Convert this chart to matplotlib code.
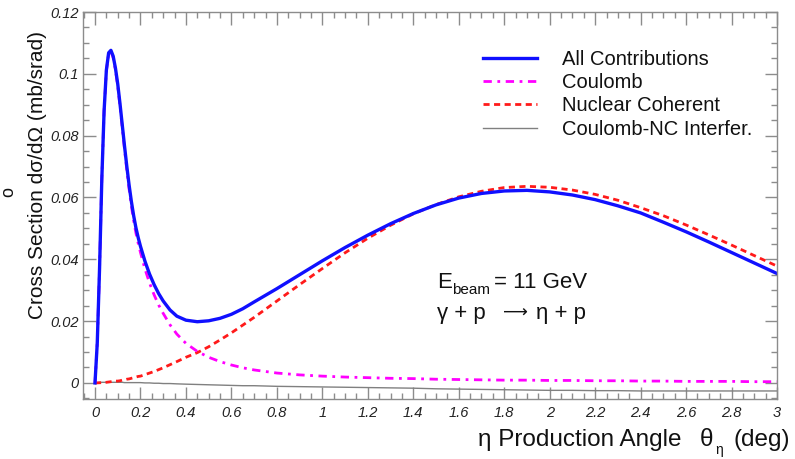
import matplotlib
matplotlib.use("Agg")
import matplotlib.pyplot as plt
from matplotlib.ticker import MultipleLocator, FuncFormatter
from matplotlib.lines import Line2D

plt.rcParams['font.family'] = ['Liberation Sans', 'DejaVu Sans']

# production angle (deg)
theta = [0.00, 0.01, 0.02, 0.03, 0.04, 0.05, 0.06, 0.07, 0.08, 0.09,
         0.10, 0.11, 0.12, 0.13, 0.14, 0.15, 0.16, 0.17, 0.18, 0.19,
         0.20, 0.22, 0.24, 0.26, 0.28, 0.30, 0.33, 0.36, 0.40, 0.45,
         0.50, 0.55, 0.60, 0.65, 0.70, 0.80, 0.90, 1.0, 1.1, 1.2,
         1.3, 1.4, 1.5, 1.6, 1.7, 1.8, 1.9, 2.0, 2.1, 2.2,
         2.3, 2.4, 2.5, 2.6, 2.7, 2.8, 2.9, 3.0]

# cross sections (mb/srad)
total = [0.0, 0.013, 0.037, 0.066, 0.088, 0.1012, 0.1068, 0.1076, 0.1057, 0.1018,
         0.0967, 0.0903, 0.0834, 0.0765, 0.0700, 0.0640, 0.0587, 0.0541, 0.0502, 0.0470,
         0.0442, 0.0393, 0.0352, 0.0318, 0.0289, 0.0265, 0.0236, 0.0216, 0.0203, 0.0198,
         0.0201, 0.0209, 0.0222, 0.0240, 0.0262, 0.0305, 0.0350, 0.0395, 0.0438, 0.0478,
         0.0515, 0.0548, 0.0576, 0.0598, 0.0613, 0.0621, 0.0623, 0.0618, 0.0608, 0.0593,
         0.0573, 0.0550, 0.0520, 0.0489, 0.0456, 0.0422, 0.0388, 0.0354]

coulomb = [0.0, 0.013, 0.037, 0.066, 0.088, 0.101, 0.1065, 0.1072, 0.1052, 0.1012,
           0.0960, 0.0895, 0.0825, 0.0755, 0.0688, 0.0627, 0.0572, 0.0525, 0.0485, 0.0452,
           0.0422, 0.0368, 0.0323, 0.0285, 0.0252, 0.0225, 0.0188, 0.0158, 0.0128, 0.0102,
           0.0083, 0.0069, 0.0058, 0.0049, 0.0042, 0.0032, 0.0026, 0.0022, 0.0019, 0.0017,
           0.0015, 0.0014, 0.0012, 0.0011, 0.0010, 0.0009, 0.0009, 0.0008, 0.0008, 0.0007,
           0.0007, 0.0006, 0.0006, 0.0005, 0.0005, 0.0005, 0.0004, 0.0004]

nuclear = [0.0, 0.00002, 0.00005, 0.0001, 0.00015, 0.0002, 0.0003, 0.0004, 0.0005, 0.0006,
           0.0006, 0.0007, 0.0009, 0.0010, 0.0012, 0.0013, 0.0015, 0.0017, 0.0019, 0.0021,
           0.0022, 0.0027, 0.0032, 0.0037, 0.0043, 0.0049, 0.0059, 0.0069, 0.0083, 0.0098,
           0.0117, 0.0139, 0.0162, 0.0187, 0.0212, 0.0265, 0.0318, 0.0370, 0.0421, 0.0468,
           0.0510, 0.0547, 0.0577, 0.0602, 0.0620, 0.0632, 0.0636, 0.0633, 0.0624, 0.0610,
           0.0591, 0.0567, 0.0541, 0.0511, 0.0479, 0.0446, 0.0412, 0.0378]

interf = [0.0, 0.0001, 0.0002, 0.0002, 0.0002, 0.0002, 0.0002, 0.0002, 0.0002, 0.0002,
          0.0002, 0.0002, 0.0002, 0.0001, 0.0001, 0.0001, 0.0001, 0.0001, 0.0001, 0.0001,
          0.0001, 0.0000, 0.0000, -0.0001, -0.0001, -0.0002, -0.0002, -0.0003, -0.0004, -0.0005,
          -0.0006, -0.0007, -0.0008, -0.0009, -0.0009, -0.0011, -0.0012, -0.0013, -0.0014, -0.0015,
          -0.0016, -0.0017, -0.0019, -0.0020, -0.0021, -0.0022, -0.0023, -0.0024, -0.0024, -0.0025,
          -0.0025, -0.0026, -0.0026, -0.0026, -0.0026, -0.0026, -0.0026, -0.0026]

labels = ["All Contributions", "Coulomb", "Nuclear Coherent", "Coulomb-NC Interfer."]

fig = plt.figure(figsize=(7.95, 4.59), dpi=100)
ax = fig.add_axes([83 / 795, 60 / 459, 694 / 795, 387 / 459])

ax.plot(theta, interf, color='#808080', lw=1.0)
ax.plot(theta, nuclear, color='#ff1a1a', lw=2.0, dashes=(2.2, 1.6))
ax.plot(theta, coulomb, color='#ff00ff', lw=2.0, dashes=(3.0, 2.0, 1.0, 2.0))
ax.plot(theta, total, color='#1010ff', lw=2.4)

ax.set_xlim(-0.0528, 3.0)
ax.set_ylim(-0.0052, 0.12)

frame = '#8c8c8c'
for s in ax.spines.values():
    s.set_color(frame)
    s.set_linewidth(1.0)

ax.xaxis.set_major_locator(MultipleLocator(0.2))
ax.xaxis.set_minor_locator(MultipleLocator(0.05))
ax.yaxis.set_major_locator(MultipleLocator(0.02))
ax.yaxis.set_minor_locator(MultipleLocator(0.005))
fmt = FuncFormatter(lambda v, p: f"{v:g}" if abs(v) > 1e-9 else "0")
ax.xaxis.set_major_formatter(fmt)
ax.yaxis.set_major_formatter(fmt)
ax.tick_params(which='both', direction='in', top=True, right=True, color=frame, width=1.0)
ax.tick_params(which='major', length=9)
ax.tick_params(which='minor', length=4.5)
ax.tick_params(axis='y', which='major', labelsize=10.5, pad=3, labelcolor='#222222')
ax.tick_params(axis='x', which='major', labelsize=10.5, pad=5, labelcolor='#222222')
for lab in ax.get_xticklabels() + ax.get_yticklabels():
    lab.set_fontstyle('italic')

ink = '#111111'
fig.text(38 / 795, 1 - 175 / 459, "Cross Section d\u03c3/d\u03a9 (mb/srad)",
         rotation=90, ha='center', va='center', fontsize=15, color=ink)

# x-axis title, built from pieces so the subscript can be placed like the original
fig.text(681 / 795, 1 - 440 / 459, "\u03b7 Production Angle",
         ha='right', va='center', fontsize=17.5, color=ink)
fig.text(700 / 795, 1 - 440 / 459, "\u03b8", ha='left', va='center', fontsize=17.5, color=ink)
fig.text(715 / 795, 1 - 450 / 459, "\u03b7", ha='left', va='center', fontsize=10, color=ink)
fig.text(790 / 795, 1 - 440 / 459, "(deg)", ha='right', va='center', fontsize=17.5, color=ink)

fig.text(9 / 795, 1 - 192 / 459, "o", rotation=90, ha='center', va='center',
         fontsize=13, color=ink)

# beam / reaction annotation
fig.text(437 / 795, 1 - 283 / 459, "E", ha='left', va='center', fontsize=16, color=ink)
fig.text(452 / 795, 1 - 290 / 459, "beam", ha='left', va='center', fontsize=11, color=ink)
fig.text(494 / 795, 1 - 283 / 459, "= 11 GeV", ha='left', va='center', fontsize=16, color=ink)
fig.text(437 / 795, 1 - 314 / 459, "\u03b3 + p", ha='left', va='center', fontsize=16, color=ink)
fig.text(515 / 795, 1 - 313 / 459, "\u27f6", ha='center', va='center', fontsize=12.5,
         color=ink, family=['DejaVu Sans'])
fig.text(586 / 795, 1 - 314 / 459, "\u03b7 + p", ha='right', va='center', fontsize=16, color=ink)

handles = [Line2D([], [], color='#1010ff', lw=2.4),
           Line2D([], [], color='#ff00ff', lw=2.0, dashes=(3.0, 2.0, 1.0, 2.0)),
           Line2D([], [], color='#ff1a1a', lw=2.0, dashes=(2.2, 1.6)),
           Line2D([], [], color='#808080', lw=1.0)]
leg = ax.legend(handles, labels, loc='upper left',
                bbox_to_anchor=((483 - 83) / 694, (399 - 50) / 387),
                frameon=False, fontsize=14.5, handlelength=2.7, handletextpad=1.2,
                labelspacing=0.21, borderpad=0, borderaxespad=0)
for t in leg.get_texts():
    t.set_color(ink)

fig.savefig("out.png", dpi=100)
